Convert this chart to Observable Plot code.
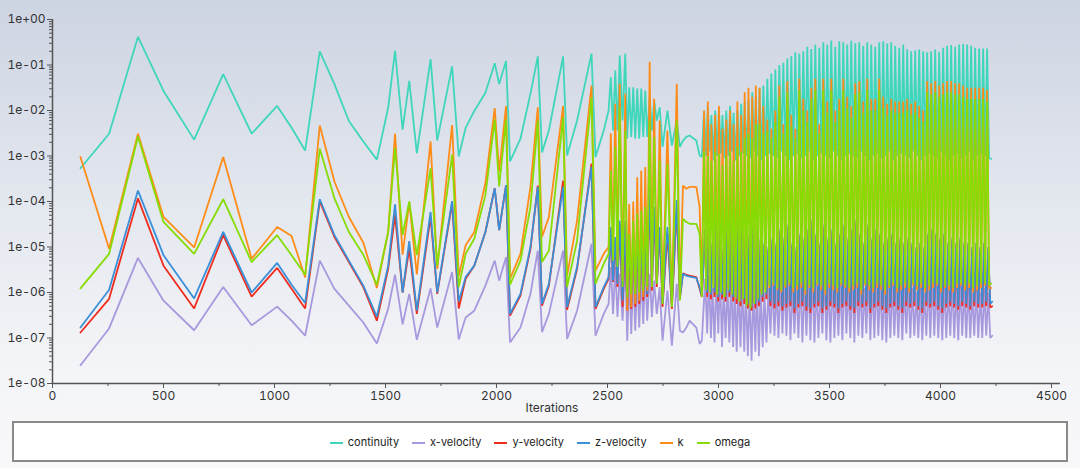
<!DOCTYPE html>
<html><head><meta charset="utf-8">
<script src="https://cdn.jsdelivr.net/npm/d3@7"></script>
<script src="https://cdn.jsdelivr.net/npm/@observablehq/plot@0.6"></script>
<style>
body{margin:0;width:1080px;height:468px;overflow:hidden;background:linear-gradient(#cdd4e2 0%,#e4e8ef 45%,#f4f5f8 80%,#f8f8fa 100%);font-family:Inter,"Noto Sans",sans-serif;position:relative}
#chart{position:absolute;left:0;top:0}
#legend{position:absolute;left:12px;top:421px;width:1052px;height:37px;border:2px solid #8a8a8a;background:#fff;display:flex;justify-content:center;align-items:center;gap:13px;font-size:11px;color:#222}
#legend span.sw{display:inline-block;width:13px;height:2px;margin-right:5px;vertical-align:middle}
</style></head><body>
<div id="chart"></div>
<div id="legend"></div>
<script>
const seriesNames = ["continuity","x-velocity","y-velocity","z-velocity","k","omega"];
const seriesColors = ["#3fd6bb","#a898de","#ee2d1f","#3b8fd6","#ff8c18","#86dc04"];

// early / transitional points: iteration and log10 residuals
const iters = [126,255,385,500,638,769,897,1012,1077,1138,
1204,1270,1335,1400,1461,1512,1543,1577,1607,1641,
1703,1733,1800,1830,1861,1900,1950,1992,2012,2043,
2061,2108,2153,2186,2205,2236,2300,2318,2363,2428,
2446,2483,2505,2515,2525,2535,2545,2555,2568,2580,
2589,2598,2607,2616,2625,2634,2643,2652,2661,2670,
2679,2690,2700,2710,2722,2735,2748,2770,2790,2812,
2826,2840,2855,2870,2900,2915,2925];
const contE = [-3.27,-2.51,-0.38,-1.57,-2.64,-1.2,-2.51,-1.9,-2.38,-2.88,
-0.7,-1.42,-2.23,-2.68,-3.08,-1.94,-0.69,-2.42,-1.35,-2.94,
-0.87,-2.66,-1.03,-3.01,-2.38,-2.01,-1.61,-0.96,-1.42,-0.91,
-3.12,-2.62,-1.63,-0.81,-2.92,-2.44,-0.81,-2.99,-2.22,-0.75,
-3.02,-2.44,-2.0,-1.27,-2.44,-1.12,-2.44,-0.79,-2.22,-0.75,
-2.62,-1.49,-2.58,-1.49,-2.62,-1.52,-2.62,-1.52,-2.58,-1.56,
-2.58,-1.71,-2.44,-1.78,-2.22,-1.93,-2.8,-2.0,-2.77,-2.22,
-2.8,-2.66,-2.58,-2.55,-2.66,-2.99,-3.02];
const xvE = [-7.6,-6.79,-5.24,-6.18,-6.83,-5.88,-6.72,-6.31,-6.62,-6.95,
-5.3,-5.92,-6.29,-6.66,-7.12,-6.36,-5.61,-6.7,-6.03,-7.04,
-5.91,-6.77,-5.55,-7.03,-6.55,-6.4,-5.85,-5.3,-5.74,-5.22,
-7.1,-6.77,-6.03,-5.08,-6.87,-6.47,-5.08,-7.02,-6.4,-4.93,
-6.95,-6.47,-6.25,-5.44,-6.47,-5.44,-6.54,-5.59,-6.62,-5.3,
-7.06,-5.59,-6.91,-5.59,-6.84,-5.66,-6.77,-5.59,-6.69,-5.52,
-6.62,-5.59,-6.54,-5.74,-6.47,-5.88,-7.06,-5.96,-7.17,-5.81,
-6.84,-6.88,-6.77,-6.62,-6.77,-7.13,-7.06];
const yvE = [-6.88,-6.14,-3.93,-5.41,-6.35,-4.74,-6.09,-5.46,-5.92,-6.35,
-4.0,-4.78,-5.33,-5.88,-6.62,-5.48,-4.3,-6.0,-5.04,-6.47,
-4.34,-6.03,-4.04,-6.35,-5.7,-5.41,-4.67,-3.71,-4.63,-3.64,
-6.51,-6.07,-5.04,-3.65,-6.29,-5.85,-3.54,-6.38,-5.48,-3.17,
-6.36,-5.92,-5.7,-4.63,-5.77,-4.85,-5.88,-4.49,-6.32,-4.56,
-6.4,-4.85,-6.36,-4.78,-6.32,-4.85,-6.25,-4.88,-6.18,-4.85,
-6.1,-3.76,-5.96,-4.2,-5.88,-4.63,-6.32,-4.71,-6.36,-4.12,
-6.14,-5.58,-5.61,-5.63,-5.66,-5.92,-6.1];
const zvE = [-6.77,-5.94,-3.76,-5.18,-6.13,-4.67,-6.0,-5.35,-5.83,-6.23,
-3.95,-4.74,-5.3,-5.85,-6.53,-5.41,-4.06,-6.0,-4.87,-6.4,
-4.23,-6.0,-3.99,-6.2,-5.66,-5.41,-4.67,-3.71,-4.63,-3.64,
-6.47,-6.03,-5.0,-3.68,-6.25,-5.81,-3.68,-6.32,-5.44,-3.24,
-6.32,-5.88,-5.66,-4.56,-5.74,-4.78,-5.81,-4.42,-6.18,-4.42,
-6.32,-4.78,-6.25,-4.71,-6.21,-4.78,-6.18,-4.85,-6.1,-4.78,
-6.03,-3.68,-5.88,-4.12,-5.81,-4.56,-6.25,-4.56,-6.3,-3.97,
-6.1,-5.59,-5.63,-5.65,-5.68,-5.88,-6.07];
const kE = [-3.02,-5.04,-2.51,-4.34,-5.01,-3.02,-5.26,-4.56,-4.76,-5.67,
-2.33,-3.56,-4.34,-4.9,-5.9,-4.67,-2.51,-5.17,-4.02,-5.6,
-2.68,-5.48,-2.32,-5.64,-4.96,-4.67,-3.6,-1.95,-3.34,-1.9,
-5.7,-5.15,-3.68,-1.93,-4.78,-4.34,-1.9,-5.63,-4.42,-1.45,
-5.52,-5.15,-5.0,-2.5,-5.15,-1.85,-5.3,-1.41,-5.74,-1.63,
-6.4,-4.05,-6.32,-4.0,-6.25,-3.47,-6.18,-3.32,-6.1,-3.24,
-5.96,-0.93,-5.88,-1.74,-5.74,-2.22,-6.1,-2.44,-6.25,-1.41,
-6.03,-3.65,-3.72,-3.68,-3.68,-4.12,-6.03];
const omE = [-5.91,-5.15,-2.57,-4.45,-5.15,-3.95,-5.33,-4.74,-5.18,-5.61,
-2.84,-3.93,-4.67,-5.17,-5.83,-4.67,-2.82,-4.74,-4.0,-5.18,
-3.27,-5.41,-2.97,-5.88,-5.15,-4.82,-3.86,-2.2,-3.67,-2.2,
-5.83,-5.3,-4.12,-2.22,-5.33,-5.08,-2.15,-5.88,-4.86,-1.71,
-5.81,-5.37,-5.15,-3.32,-5.3,-2.8,-5.44,-1.93,-5.88,-2.44,
-6.1,-4.71,-6.03,-4.42,-6.03,-4.27,-6.0,-4.2,-5.96,-4.12,
-5.88,-2.22,-5.88,-2.58,-5.81,-3.1,-6.25,-3.17,-6.32,-2.22,
-6.18,-4.38,-4.45,-4.49,-4.49,-4.71,-6.1];

// dense oscillating part: peak iteration of each cycle; low reached 9 iterations later
const cycles = [2935,2952,2968,2985,3002,3018,3035,3052,3068,3085,3102,3118,3135,3152,3168,3185,3202,
3220,3238,3256,3274,3292,3310,3328,3346,3364,3382,3400,3418,3436,3454,3472,3490,3508,3526,3544,3562,
3580,3598,3616,3634,3652,3670,3688,3706,3724,3742,3760,3778,3796,3814,3832,3850,3868,3886,3904,3922,
3940,3958,3976,3994,4012,4030,4048,4066,4084,4102,4120,4138,4156,4174,4192,4210];
// velocity residual spikes lag the turbulence spikes by a few iterations
const phaseLag = [0, 5, 5, 5, 0, 0];
const contHi = [-2.0,-1.9,-2.1,-2.0,-1.95,-2.1,-2.0,-1.9,-2.05,-2.0,-1.85,-1.8,-1.75,-1.6,-1.7,-1.5,-1.45,
-1.3,-1.19,-1.1,-1.0,-0.95,-0.85,-0.8,-0.72,-0.75,-0.7,
-0.6,-0.65,-0.55,-0.62,-0.5,-0.55,-0.46,-0.6,-0.48,-0.5,
-0.55,-0.47,-0.52,-0.5,-0.58,-0.5,-0.55,-0.6,-0.5,-0.48,
-0.53,-0.5,-0.58,-0.62,-0.55,-0.66,-0.7,-0.68,-0.66,-0.7,
-0.72,-0.7,-0.66,-0.72,-0.62,-0.58,-0.56,-0.6,-0.55,-0.54,
-0.55,-0.58,-0.62,-0.64,-0.64,-0.64];
const contLo = [-3.0,-2.9,-3.1,-3.0,-2.95,-3.05,-3.0,-2.9,-3.1,-3.0,
-2.95,-3.0,-3.05,-2.9,-3.0,-3.1,-3.0,-2.95,-3.0,-3.05,
-2.9,-3.0,-3.1,-3.0,-2.95,-3.05,-3.0,-2.9,-3.1,-3.0,
-2.95,-3.0,-3.05,-2.9,-3.0,-3.1,-3.0,-2.95,-3.0,-3.05,
-2.9,-3.0,-3.1,-3.0,-2.95,-3.05,-3.0,-2.9,-3.1,-3.0,
-2.95,-3.0,-3.05,-2.9,-3.0,-3.1,-3.0,-2.95,-3.0,-3.05,
-2.9,-3.0,-3.1,-3.0,-2.95,-3.05,-3.0,-2.9,-3.1,-3.0,-2.95,-3.0,-3.05];
const kHi = [-2.0,-1.8,-2.3,-2.1,-1.9,-2.4,-2.2,-2.0,-2.3,-1.8,-2.1,-1.6,-1.5,-1.7,-1.45,-1.5,-1.9,
-2.2,-2.4,-2.0,-1.45,-2.3,-1.35,-2.1,-2.4,-1.3,-1.75,
-2.0,-1.5,-1.3,-2.3,-1.3,-1.8,-1.3,-2.0,-1.75,-1.3,
-1.7,-1.9,-1.4,-1.35,-1.8,-1.3,-1.75,-1.75,-1.3,-1.7,
-1.85,-1.75,-1.8,-1.8,-1.8,-1.75,-1.85,-1.8,-1.9,-2.0,
-1.35,-1.4,-1.35,-1.45,-1.4,-1.35,-1.35,-1.4,-1.4,-1.45,
-1.5,-1.5,-1.5,-1.5,-1.5,-1.55];
const kLo = [-5.9,-6.0,-5.85,-6.05,-5.95,-6.1,-5.9,-6.0,-6.15,-6.2,-6.1,-6.25,-6.3,-6.2,-6.1,-6.0,-5.95,
-5.9,-5.85,-5.95,-6.0,-5.9,-5.85,-6.0,-5.95,-5.9,-6.05,
-5.9,-6.0,-5.85,-5.95,-6.05,-5.9,-5.95,-6.0,-5.85,-5.9,
-6.0,-5.95,-5.9,-6.05,-5.85,-5.95,-6.0,-5.9,-5.95,-6.05,
-5.9,-5.85,-6.0,-5.95,-5.9,-6.0,-5.85,-5.95,-5.9,-6.0,
-5.95,-5.9,-5.85,-6.0,-5.9,-5.95,-6.0,-5.9,-5.85,-5.95,
-5.9,-6.0,-5.95,-5.9,-5.85,-5.9];
const omHi = [-2.9,-3.0,-3.1,-2.9,-2.95,-3.2,-3.0,-2.9,-3.1,-2.8,-2.9,-2.6,-2.5,-2.6,-2.3,-2.3,-2.5,
-2.45,-2.6,-2.25,-1.7,-2.5,-1.6,-2.35,-2.6,-1.55,-2.0,
-2.25,-1.75,-1.55,-2.5,-1.55,-2.05,-1.55,-2.25,-2.0,-1.55,
-1.95,-2.15,-1.65,-1.6,-2.05,-1.55,-2.0,-2.0,-1.55,-1.95,
-2.1,-2.0,-2.05,-2.05,-2.05,-2.0,-2.1,-2.05,-2.15,-2.25,
-1.6,-1.65,-1.6,-1.7,-1.65,-1.6,-1.6,-1.65,-1.65,-1.7,
-1.75,-1.75,-1.75,-1.75,-1.75,-1.8];
const omLo = [-5.95,-6.0,-5.9,-6.05,-6.0,-6.1,-5.95,-6.05,-6.1,-6.2,-6.15,-6.3,-6.35,-6.25,-6.15,-6.05,-6.0,
-5.85,-5.8,-5.9,-5.95,-5.85,-5.8,-5.9,-5.85,-5.8,-5.95,
-5.85,-5.9,-5.8,-5.85,-5.95,-5.8,-5.85,-5.9,-5.8,-5.85,
-5.9,-5.85,-5.8,-5.95,-5.8,-5.85,-5.9,-5.8,-5.85,-5.95,
-5.85,-5.8,-5.9,-5.85,-5.8,-5.9,-5.8,-5.85,-5.8,-5.9,
-5.85,-5.8,-5.8,-5.9,-5.85,-5.85,-5.9,-5.8,-5.8,-5.85,
-5.8,-5.9,-5.85,-5.8,-5.8,-5.85];
const zvHi = [-4.6,-4.3,-4.9,-4.5,-4.4,-5.0,-4.6,-4.3,-4.7,-4.4,-4.5,-4.6,-4.7,-4.5,-4.6,-4.8,-4.9,
-5.0,-4.8,-4.9,-4.6,-4.8,-4.5,-4.9,-5.0,-4.7,-4.8,
-4.6,-4.4,-4.7,-4.9,-4.5,-4.8,-4.6,-4.9,-4.7,-4.5,
-4.8,-4.6,-4.4,-4.7,-4.9,-4.5,-4.8,-4.6,-4.7,-4.9,
-4.8,-4.7,-4.9,-4.8,-4.9,-4.8,-4.9,-5.0,-4.9,-5.0,
-4.7,-4.6,-4.7,-4.8,-4.7,-4.9,-4.8,-4.9,-4.8,-4.9,
-4.9,-5.0,-4.9,-5.0,-4.9,-5.0];
const zvLo = [-6.0,-6.05,-6.0,-6.1,-6.05,-6.1,-6.0,-6.1,-6.15,-6.2,-6.15,-6.25,-6.3,-6.25,-6.2,-6.1,-6.05,
-6.2,-6.25,-6.2,-6.3,-6.25,-6.2,-6.35,-6.25,-6.2,-6.3,
-6.35,-6.25,-6.2,-6.35,-6.3,-6.2,-6.25,-6.35,-6.25,-6.2,
-6.3,-6.35,-6.2,-6.25,-6.2,-6.35,-6.25,-6.2,-6.3,-6.35,
-6.25,-6.2,-6.3,-6.35,-6.2,-6.25,-6.2,-6.3,-6.35,-6.2,
-6.25,-6.2,-6.3,-6.35,-6.25,-6.2,-6.25,-6.3,-6.2,-6.25,
-6.3,-6.2,-6.25,-6.25,-6.2,-6.25];
const yvHi = [-4.65,-4.35,-4.95,-4.55,-4.45,-5.05,-4.65,-4.35,-4.75,-4.45,-4.55,-4.65,-4.75,-4.55,-4.65,-4.85,-4.95,
-5.05,-4.85,-4.95,-4.65,-4.85,-4.55,-4.95,-5.05,-4.75,-4.85,
-4.65,-4.45,-4.75,-4.95,-4.55,-4.85,-4.65,-4.95,-4.75,-4.55,
-4.85,-4.65,-4.45,-4.75,-4.95,-4.55,-4.85,-4.65,-4.75,-4.95,
-4.85,-4.75,-4.95,-4.85,-4.95,-4.85,-4.95,-5.05,-4.95,-5.05,
-4.75,-4.65,-4.75,-4.85,-4.75,-4.95,-4.85,-4.95,-4.85,-4.95,
-4.95,-5.05,-4.95,-5.05,-4.95,-5.05];
const yvLo = [-6.1,-6.15,-6.1,-6.2,-6.15,-6.2,-6.1,-6.2,-6.25,-6.3,-6.25,-6.35,-6.4,-6.35,-6.3,-6.2,-6.15,
-6.3,-6.35,-6.3,-6.4,-6.33,-6.3,-6.45,-6.33,-6.3,-6.4,
-6.45,-6.33,-6.3,-6.45,-6.38,-6.3,-6.33,-6.45,-6.33,-6.3,
-6.38,-6.45,-6.3,-6.33,-6.3,-6.45,-6.33,-6.3,-6.38,-6.45,
-6.33,-6.3,-6.38,-6.45,-6.3,-6.33,-6.3,-6.38,-6.45,-6.3,
-6.33,-6.3,-6.38,-6.45,-6.33,-6.3,-6.33,-6.38,-6.3,-6.33,
-6.38,-6.3,-6.33,-6.33,-6.3,-6.33];
const xvHi = [-5.7,-5.6,-5.9,-5.7,-5.6,-5.9,-5.8,-5.6,-5.8,-5.7,-5.8,-5.9,-6.0,-5.9,-5.8,-5.9,-6.0,
-5.9,-5.8,-5.9,-5.7,-5.8,-5.6,-5.9,-5.9,-5.7,-5.8,
-5.7,-5.6,-5.8,-5.9,-5.6,-5.8,-5.7,-5.9,-5.8,-5.6,
-5.8,-5.7,-5.6,-5.8,-5.9,-5.6,-5.8,-5.7,-5.8,-5.9,
-5.8,-5.8,-5.9,-5.8,-5.9,-5.8,-5.9,-6.0,-5.9,-6.0,
-5.8,-5.7,-5.8,-5.9,-5.8,-5.9,-5.8,-5.9,-5.8,-5.9,
-5.9,-6.0,-5.9,-6.0,-5.9,-6.0];
const xvLo = [-6.9,-7.0,-7.1,-6.9,-7.2,-7.0,-7.1,-7.2,-7.3,-7.2,-7.3,-7.4,-7.5,-7.3,-7.4,-7.2,-7.1,
-6.9,-6.95,-7.0,-6.9,-6.95,-7.05,-6.9,-7.0,-7.1,-6.95,
-7.05,-7.1,-7.0,-6.9,-7.05,-7.1,-7.0,-6.95,-7.05,-6.9,
-7.0,-7.1,-6.95,-7.0,-6.9,-7.05,-7.0,-6.95,-7.05,-7.1,
-7.0,-6.95,-7.0,-7.05,-6.9,-7.0,-6.95,-7.0,-7.05,-6.95,
-7.0,-6.95,-7.0,-7.05,-7.0,-6.95,-7.0,-7.05,-6.95,-7.0,
-7.0,-6.95,-7.0,-7.0,-6.95,-7.0];
const lastIter = 4228;
const lastE = [-3.06,-6.95,-6.3,-6.2,-5.9,-5.8];

const earlyE = [contE, xvE, yvE, zvE, kE, omE];
const hiE = [contHi, xvHi, yvHi, zvHi, kHi, omHi];
const loE = [contLo, xvLo, yvLo, zvLo, kLo, omLo];

const seriesData = seriesNames.map((name, s) => {
  const pts = iters.map((it, i) => ({it, v: 10 ** earlyE[s][i]}));
  const n = Math.min(cycles.length, hiE[s].length, loE[s].length);
  for (let i = 0; i < n; i++) {
    pts.push({it: cycles[i] + phaseLag[s], v: 10 ** hiE[s][i]});
    pts.push({it: cycles[i] + phaseLag[s] + 9, v: 10 ** loE[s][i]});
  }
  pts.push({it: lastIter + phaseLag[s], v: 10 ** lastE[s]});
  return pts;
});

const majorY = [1e-8,1e-7,1e-6,1e-5,1e-4,1e-3,1e-2,1e-1,1];
const minorY = majorY.slice(0, -1).flatMap(d => [2,3,4,5,6,7,8,9].map(m => d * m));
const majorX = [0,500,1000,1500,2000,2500,3000,3500,4000,4500];
const minorX = [250,750,1250,1750,2250,2750,3250,3750,4250];
const fmt = d => { const e = Math.round(Math.log10(d)); return "1e" + (e < 0 ? "-" : "+") + String(Math.abs(e)).padStart(2, "0"); };

const axisColor = "#555";
const chart = Plot.plot({
  width: 1080, height: 420,
  marginTop: 19, marginBottom: 37, marginLeft: 52, marginRight: 29,
  style: {background: "transparent", fontFamily: "Inter, 'Noto Sans', sans-serif", fontSize: "12px", color: "#333"},
  x: {domain: [0, 4500]},
  y: {type: "log", domain: [1e-8, 1]},
  marks: [
    ...seriesData.map((pts, s) => Plot.line(pts, {x: "it", y: "v", stroke: seriesColors[s], strokeWidth: 1.8, strokeLinejoin: "miter"})),
    Plot.ruleX([0], {stroke: axisColor, strokeWidth: 1.5}),
    Plot.ruleY([1e-8], {stroke: axisColor, strokeWidth: 1.5, x1: 0, x2: 4540}),
    Plot.axisY(minorY, {tickSize: 3, tickFormat: () => "", stroke: axisColor, label: null}),
    Plot.axisY(majorY, {tickSize: 5, tickFormat: fmt, tickPadding: 2, stroke: axisColor, fill: "#333", label: null}),
    Plot.axisX(minorX, {tickSize: 3, tickFormat: () => "", stroke: axisColor, label: null}),
    Plot.axisX(majorX, {tickSize: 5, tickPadding: 3, tickFormat: d => String(d), stroke: axisColor, fill: "#333", label: null}),
    Plot.text(["Iterations"], {frameAnchor: "bottom", dy: 28, fontSize: 12, fill: "#333"})
  ]
});
document.getElementById("chart").appendChild(chart);

const legend = document.getElementById("legend");
seriesNames.forEach((n, i) => {
  const el = document.createElement("div");
  el.innerHTML = `<span class="sw" style="background:${seriesColors[i]}"></span>${n}`;
  legend.appendChild(el);
});
</script>
</body></html>
